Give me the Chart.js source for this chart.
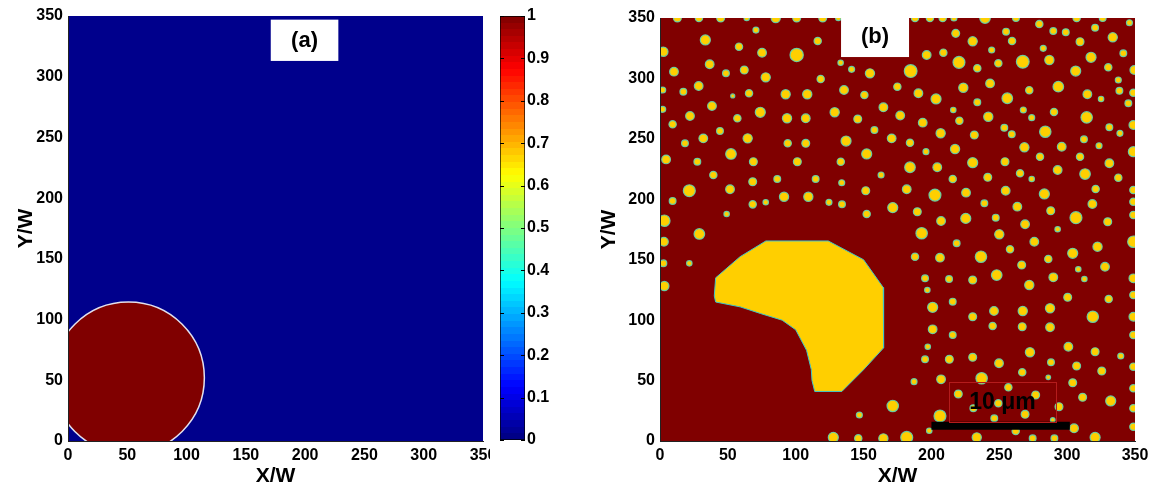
<!DOCTYPE html>
<html>
<head>
<meta charset="utf-8">
<title>Phase field</title>
<script src="https://cdn.jsdelivr.net/npm/chart.js@4.4.1/dist/chart.umd.min.js"></script>
<style>
  html, body { margin: 0; padding: 0; background: #fff; }
  #wrap { position: relative; width: 1150px; height: 491px; overflow: hidden; }
  canvas { position: absolute; top: 0; }
  #fieldA { left: 0; }
  #cbar { left: 491px; }
  #fieldB { left: 585px; }
</style>
</head>
<body>
<div id="wrap">
  <canvas id="fieldA" width="490" height="491"></canvas>
  <canvas id="cbar" width="80" height="491"></canvas>
  <canvas id="fieldB" width="565" height="491"></canvas>
</div>
<script>
Chart.defaults.font.family = '"Liberation Sans", Arial, Helvetica, sans-serif';
Chart.defaults.font.weight = 'bold';
Chart.defaults.color = '#000';

const axisTicks = [0, 50, 100, 150, 200, 250, 300, 350];
const barTicks = [0, 0.1, 0.2, 0.3, 0.4, 0.5, 0.6, 0.7, 0.8, 0.9, 1];

// (a) initial seed: centre and radius in W
const seedX = [51];
const seedY = [52];
const seedR = [64];

// (b) large grain outline
const grainX = [78, 124, 150, 164.5, 165, 164.5, 150, 134, 114, 112, 111.5, 108, 100, 90, 74, 59, 41, 40, 41, 59, 78];
const grainY = [165.5, 165.5, 150, 127, 100, 77, 59, 41, 41, 50, 59, 75, 92, 100, 105.5, 111, 115, 120, 135, 152.5, 165.5];

// (b) small grains: position and radius in W
const dotX = [
  12.8, 28.7, 44.7, 63.9, 85.3, 100.7, 119.9, 131.4, 187.9, 198.9, 208.3, 216.6, 239.5, 262.3, 307.0, 326.2,
  70.7, 33.4, 116.2, 2.5, 58.2, 75.2, 100.7, 36.6, 10.3, 62.1, 48.6, 77.9, 28.5, 17.2, 2.0, 53.6, 65.6, 92.6, 108.5,
  118.4, 133.1, 141.2, 154.7, 174.9, 135.6, 150.6, 2.0, 38.3, 22.1, 57.0, 73.9, 93.6, 107.4, 128.7, 145.7, 164.6, 177.0,
  9.3, 44.2, 31.9, 18.4, 64.6, 94.1, 107.4, 137.1, 158.0, 170.7, 52.3, 152.3,
  4.5, 27.5, 68.8, 101.2, 133.2,
  39.3, 68.3, 86.4, 114.7, 133.9, 162.9, 21.6, 51.6, 91.4, 109.3, 151.6, 9.3, 68.3, 77.9, 124.5, 134.1, 171.5, 49.1,
  152.3, 3.2, 29.0, 2.9, 21.6, 2.5, 3.2,
  171.5, 146.9, 127.7, 146.1, 164.6,
  345.9, 279.5, 217.9, 255.0, 289.8, 299.0, 320.6, 230.4, 259.4, 309.5, 333.6, 282.4, 196.5, 208.8, 244.4, 220.3, 267.3,
  286.9, 317.6, 341.4, 184.7, 249.3, 233.8, 306.3, 330.3, 349.5, 337.7, 243.2, 223.5, 293.5, 272.1, 190.4, 338.5, 314.9,
  203.4, 255.9, 325.0, 348.8, 233.8, 345.1, 216.1, 267.7, 290.3, 241.9, 220.6, 273.9, 314.4, 193.6, 253.7, 348.8, 206.8,
  231.6, 259.2, 283.9, 331.1, 312.4, 338.9, 184.2, 217.4, 268.5, 296.0, 323.5, 348.8, 196.0, 280.0, 309.5,
  184.2, 204.3, 230.4, 254.2, 331.1, 215.7, 241.5, 265.3, 273.9, 293.0, 313.2, 337.7, 181.8, 202.6, 225.5, 254.7, 283.2,
  321.0, 348.8, 239.0, 263.3, 318.6, 348.8, 189.6, 287.9, 207.1, 225.3, 247.4, 306.5, 329.9, 348.8, 269.0, 192.8, 250.0,
  293.0, 275.8, 218.6, 348.8, 322.4, 257.9, 187.9, 206.3, 236.5, 304.1, 286.1, 266.5, 308.2, 327.9, 248.1, 195.3, 213.0,
  230.4, 289.8, 312.7, 348.8, 272.1, 197.0, 300.4, 330.6, 348.8, 215.7, 200.9, 246.1, 267.3, 287.4, 230.4, 318.9, 348.8,
  200.9, 215.7, 245.1, 266.9, 287.4, 348.8, 197.3, 300.9, 195.3, 213.2, 230.4, 272.6, 320.6, 339.5, 249.8, 288.1, 307.0,
  325.5, 348.8, 266.9, 286.1, 187.2, 207.1, 237.0, 304.1, 256.7, 348.8, 219.8, 276.8, 311.4, 332.1, 230.9, 249.3, 269.0,
  294.0, 348.8, 206.3, 246.3, 289.4, 198.4, 262.1, 305.1, 348.8, 181.8, 233.4, 274.6, 290.6, 320.6
];
const dotY = [
  350, 350, 350, 350, 350, 350, 350, 350, 350, 350, 350, 350, 350, 350, 350, 350,
  340.0, 331.8, 331.0, 322.1, 326.3, 321.3, 319.4, 311.7, 305.6, 307.0, 304.2, 300.9, 293.7, 289.0, 290.4, 285.5, 287.7, 286.9, 286.9,
  299.5, 313.0, 307.5, 304.2, 293.2, 290.4, 286.3, 274.4, 277.2, 268.9, 267.0, 272.0, 267.0, 267.0, 272.0, 266.4, 276.1, 269.3,
  262.0, 256.5, 250.4, 246.3, 250.4, 246.3, 246.3, 248.2, 257.3, 250.4, 237.5, 237.5,
  233.0, 231.1, 231.1, 231.1, 231.1,
  220.1, 214.5, 216.8, 216.8, 213.7, 220.1, 207.1, 208.3, 202.1, 202.1, 207.1, 198.6, 195.8, 197.5, 197.5, 195.8, 193.1, 187.8,
  187.8, 182.3, 171.3, 164.9, 147.0, 147.0, 128.2,
  29.0, 21.5, 3.0, 2.2, 2.2,
  346.1, 345.0, 337.3, 338.7, 339.2, 338.2, 342.0, 330.7, 331.0, 330.4, 334.0, 324.9, 319.4, 321.3, 323.5, 313.3, 313.8,
  315.2, 317.5, 320.8, 306.1, 312.5, 308.4, 306.1, 309.2, 307.0, 298.7, 295.9, 292.3, 293.2, 290.2, 287.7, 289.8, 286.9,
  283.0, 283.6, 283.0, 288.2, 280.2, 279.4, 273.9, 273.9, 272.2, 268.3, 265.0, 267.5, 267.8, 263.4, 259.2, 261.5, 254.6,
  253.2, 253.8, 255.9, 259.6, 249.6, 254.6, 246.8, 241.6, 243.0, 243.5, 244.3, 239.4, 239.4, 235.2, 235.2,
  226.5, 226.5, 230.3, 231.1, 229.8, 216.8, 218.2, 221.5, 216.8, 224.2, 220.9, 217.9, 208.3, 203.5, 205.5, 207.1, 204.4,
  208.5, 207.7, 196.7, 193.9, 196.1, 198.0, 189.7, 190.5, 182.0, 184.2, 184.8, 184.8, 181.4, 187.0, 179.3, 171.9, 171.0,
  175.2, 164.9, 163.6, 164.9, 160.8, 158.6, 152.5, 151.7, 152.5, 155.3, 150.6, 145.6, 142.1, 144.2, 137.3, 134.6, 134.0,
  133.2, 135.4, 134.0, 134.6, 129.1, 124.9, 118.9, 117.5, 120.8, 115.3, 110.6, 107.6, 107.6, 109.8, 102.8, 102.8, 102.8,
  92.4, 87.7, 95.2, 94.6, 94.1, 87.7, 78.0, 78.0, 67.6, 67.6, 69.3, 73.4, 73.9, 70.3, 64.3, 65.1, 62.1,
  57.9, 61.5, 56.8, 52.7, 49.1, 51.0, 51.9, 48.2, 44.4, 43.6, 38.9, 38.1, 36.2, 33.1, 27.1, 31.2, 22.1,
  28.4, 27.1, 20.7, 18.8, 17.4, 8.5, 8.3, 10.5, 11.8, 3.0, 3.0, 2.2, 2.2, 3.0
];
const dotR = [
  2.9, 2.7, 2.9, 2.0, 3.4, 2.9, 2.9, 2.0, 2.7, 2.7, 2.7, 2.2, 3.9, 2.5, 2.7, 2.5,
  2.2, 3.7, 2.7, 3.4, 2.7, 3.2, 4.9, 3.2, 3.2, 2.9, 2.5, 3.4, 3.2, 2.5, 2.2, 1.5, 2.7, 3.4, 3.4,
  2.7, 2.0, 2.2, 3.4, 2.7, 3.2, 2.7, 2.2, 3.2, 3.2, 2.7, 3.7, 3.4, 3.2, 3.4, 2.9, 3.2, 3.2,
  2.7, 2.5, 3.2, 2.5, 3.4, 2.7, 2.9, 3.7, 2.5, 3.2, 3.9, 3.7,
  3.2, 2.5, 2.9, 2.9, 2.7,
  2.7, 2.9, 2.5, 2.5, 2.2, 2.2, 4.4, 3.2, 3.4, 3.4, 2.9, 2.5, 2.7, 2.0, 2.2, 2.5, 3.7, 2.0,
  2.7, 4.2, 3.9, 3.2, 2.0, 2.5, 3.4,
  4.2, 2.2, 3.7, 2.7, 3.4,
  2.2, 2.7, 2.9, 2.5, 2.5, 2.5, 2.5, 3.4, 2.7, 2.9, 3.4, 2.2, 3.2, 2.7, 2.2, 4.4, 4.7,
  3.4, 3.7, 2.5, 4.7, 2.7, 2.7, 3.7, 2.7, 3.2, 2.2, 3.2, 3.4, 3.9, 2.7, 3.2, 2.5, 3.2,
  3.7, 3.9, 2.0, 2.7, 2.5, 2.5, 2.0, 2.2, 2.7, 3.4, 2.7, 2.2, 4.2, 3.2, 2.5, 3.2, 3.4,
  2.9, 2.5, 4.2, 2.5, 2.5, 2.2, 2.7, 3.4, 3.4, 3.2, 2.2, 3.7, 2.2, 2.7, 2.7,
  3.9, 3.2, 3.7, 2.9, 3.2, 2.7, 2.9, 2.7, 2.0, 3.2, 3.9, 2.7, 3.2, 4.4, 3.2, 3.2, 3.7,
  2.7, 2.7, 2.5, 3.2, 3.2, 2.7, 2.9, 2.9, 3.2, 3.7, 2.5, 4.4, 2.9, 2.7, 3.2, 4.2, 3.4,
  2.0, 3.2, 2.5, 4.2, 3.4, 2.7, 2.7, 3.2, 4.2, 3.7, 2.7, 2.9, 2.0, 3.2, 3.9, 2.5, 2.5,
  2.9, 3.2, 2.0, 3.2, 3.4, 2.0, 2.9, 2.7, 2.7, 2.5, 3.7, 3.2, 3.4, 3.4, 2.9, 4.2, 3.2,
  3.2, 2.5, 2.7, 2.9, 3.2, 2.7, 2.0, 3.2, 2.5, 2.9, 2.9, 3.4, 2.9, 2.2, 3.2, 2.5, 2.9,
  2.9, 2.7, 2.7, 1.7, 2.2, 3.2, 4.2, 2.9, 2.7, 2.7, 2.9, 2.9, 2.9, 3.7, 2.5, 2.7, 2.9,
  2.9, 2.7, 4.4, 2.5, 1.7, 2.0, 2.7, 3.2, 2.7, 4.4, 3.4, 2.5, 2.5, 3.7
];

// scale bar (10 um) in W
const barX = [200, 302];
const barY = [12.7, 12.7];

const BLUE = '#00008C';
const MAROON = '#800000';
const GOLD = '#FFCF00';

function pxRadius(chart, r) {
  const s = chart.scales.x;
  return s.getPixelForValue(r) - s.getPixelForValue(0);
}

function jet(t) {
  const c = v => Math.round(255 * Math.min(1, Math.max(0, v)));
  return 'rgb(' + c(1.5 - Math.abs(4 * t - 3)) + ',' + c(1.5 - Math.abs(4 * t - 2)) + ',' + c(1.5 - Math.abs(4 * t - 1)) + ')';
}

function jetBands(ctx, area) {
  const g = ctx.createLinearGradient(0, area.bottom, 0, area.top);
  for (let i = 0; i < 64; i++) {
    const col = jet((i + 0.5) / 64);
    g.addColorStop(i / 64, col);
    g.addColorStop((i + 1) / 64, col);
  }
  return g;
}

function fieldAxes(yWidth, yTitlePad) {
  return {
    x: {
      type: 'linear', min: 0, max: 350,
      afterBuildTicks: s => { s.ticks = axisTicks.map(v => ({ value: v })); },
      afterFit: s => { s.height = 50; s.paddingLeft = 0; s.paddingRight = 0; },
      grid: { display: false, drawTicks: false },
      border: { display: true, color: '#222', width: 1, z: 1 },
      ticks: { padding: 5, font: { size: 16 }, maxRotation: 0, autoSkip: false },
      title: { display: true, text: 'X/W', font: { size: 21 }, padding: { top: 0, bottom: 2 } }
    },
    y: {
      type: 'linear', min: 0, max: 350,
      afterBuildTicks: s => { s.ticks = axisTicks.map(v => ({ value: v })); },
      afterFit: s => { s.width = yWidth; s.paddingTop = 0; s.paddingBottom = 0; },
      grid: { display: false, drawTicks: false },
      border: { display: true, color: '#222', width: 1, z: 1 },
      ticks: { padding: 5, font: { size: 16 }, autoSkip: false },
      title: { display: true, text: 'Y/W', font: { size: 21 }, padding: { top: yTitlePad, bottom: 0 } }
    }
  };
}

// background of the plot area, label boxes and framed captions
function notes(cfg) {
  return {
    id: 'notes',
    beforeDraw(chart) {
      const { ctx, chartArea: a } = chart;
      ctx.save();
      ctx.fillStyle = cfg.background;
      ctx.fillRect(a.left, a.top, a.right - a.left, a.bottom - a.top);
      ctx.restore();
    },
    afterDatasetsDraw(chart) {
      const { ctx, scales: { x, y } } = chart;
      ctx.save();
      (cfg.frames || []).forEach(f => {
        const x0 = x.getPixelForValue(f.x0), x1 = x.getPixelForValue(f.x1);
        const y0 = y.getPixelForValue(f.y0), y1 = y.getPixelForValue(f.y1);
        ctx.strokeStyle = f.color;
        ctx.lineWidth = 1;
        ctx.strokeRect(Math.round(x0) + 0.5, Math.round(y1) + 0.5, Math.round(x1 - x0), Math.round(y0 - y1));
      });
      (cfg.boxes || []).forEach(b => {
        const x0 = x.getPixelForValue(b.x0), x1 = x.getPixelForValue(b.x1);
        const y0 = y.getPixelForValue(b.y0), y1 = y.getPixelForValue(b.y1);
        ctx.fillStyle = '#fff';
        ctx.fillRect(x0, y1, x1 - x0, y0 - y1);
        ctx.fillStyle = '#000';
        ctx.font = 'bold 22px "Liberation Sans", Arial, sans-serif';
        ctx.textAlign = 'center';
        ctx.textBaseline = 'middle';
        ctx.fillText(b.text, (x0 + x1) / 2, (y0 + y1) / 2 + 1);
      });
      (cfg.texts || []).forEach(t => {
        ctx.fillStyle = '#000';
        ctx.font = 'bold ' + t.size + 'px "Liberation Sans", Arial, sans-serif';
        ctx.textAlign = 'center';
        ctx.textBaseline = 'middle';
        ctx.fillText(t.text, x.getPixelForValue(t.x), y.getPixelForValue(t.y));
      });
      ctx.restore();
    }
  };
}

// filled shapes built from the laid-out points of a dataset:
// closed outlines (grain) and discs whose radius is given in W (radii)
const shapeFill = {
  id: 'shapeFill',
  beforeDatasetDraw(chart, args) {
    const ds = chart.data.datasets[args.index];
    if (!ds.grain && !ds.radii) return;
    const { ctx, chartArea: a } = chart;
    const pts = args.meta.data;
    ctx.save();
    ctx.beginPath();
    ctx.rect(a.left, a.top, a.right - a.left, a.bottom - a.top);
    ctx.clip();
    if (ds.grain) {
      ctx.beginPath();
      pts.forEach((p, i) => (i ? ctx.lineTo(p.x, p.y) : ctx.moveTo(p.x, p.y)));
      ctx.closePath();
      ctx.fillStyle = ds.backgroundColor;
      ctx.fill();
    } else {
      ctx.fillStyle = ds.discColor;
      ctx.strokeStyle = ds.edgeColor;
      ctx.lineWidth = ds.edgeWidth;
      pts.forEach((p, i) => {
        ctx.beginPath();
        ctx.arc(p.x, p.y, pxRadius(chart, ds.radii[i]), 0, Math.PI * 2);
        ctx.fill();
        ctx.stroke();
      });
    }
    ctx.restore();
  }
};

// (a) initial state
new Chart(document.getElementById('fieldA'), {
  type: 'scatter',
  data: {
    datasets: [{
      data: seedX.map((x, i) => ({ x, y: seedY[i] })),
      radii: seedR,
      discColor: MAROON,
      edgeColor: 'rgba(236,236,246,0.95)',
      edgeWidth: 1.5,
      pointRadius: 0,
      clip: 0
    }]
  },
  options: {
    responsive: false,
    animation: false,
    events: [],
    layout: { padding: { top: 16, right: 7, left: 0, bottom: 0 } },
    scales: fieldAxes(68, 14),
    plugins: { legend: { display: false }, tooltip: { enabled: false } }
  },
  plugins: [shapeFill, notes({
    background: BLUE,
    boxes: [{ x0: 171, x1: 228, y0: 313, y1: 347, text: '(a)' }]
  })]
});

// colour scale 0..1
new Chart(document.getElementById('cbar'), {
  type: 'bar',
  data: {
    labels: [''],
    datasets: [{
      data: [[0, 1]],
      backgroundColor: ctx => (ctx.chart.chartArea ? jetBands(ctx.chart.ctx, ctx.chart.chartArea) : null),
      borderColor: '#000',
      borderWidth: 1,
      borderSkipped: false,
      barPercentage: 1,
      categoryPercentage: 1
    }]
  },
  options: {
    responsive: false,
    animation: false,
    events: [],
    layout: { padding: { top: 16, right: 0, left: 9, bottom: 51 } },
    scales: {
      x: { display: false },
      y: {
        position: 'right', min: 0, max: 1,
        afterBuildTicks: s => { s.ticks = barTicks.map(v => ({ value: v })); },
        afterFit: s => { s.width = 46; s.paddingTop = 0; s.paddingBottom = 0; },
        grid: { display: false, drawTicks: false },
        border: { display: false },
        ticks: { padding: 2, font: { size: 16 }, autoSkip: false, callback: v => String(v) }
      }
    },
    plugins: { legend: { display: false }, tooltip: { enabled: false } }
  },
  plugins: [{
    id: 'innerTicks',
    afterDatasetsDraw(chart) {
      const { ctx, chartArea: a, scales: { y } } = chart;
      ctx.save();
      ctx.strokeStyle = '#000';
      ctx.lineWidth = 1;
      barTicks.forEach(v => {
        const py = Math.round(y.getPixelForValue(v)) + 0.5;
        ctx.beginPath();
        ctx.moveTo(a.left, py); ctx.lineTo(a.left + 4, py);
        ctx.moveTo(a.right - 4, py); ctx.lineTo(a.right, py);
        ctx.stroke();
      });
      ctx.restore();
    }
  }]
});

// (b) grown state
new Chart(document.getElementById('fieldB'), {
  type: 'scatter',
  data: {
    datasets: [
      {
        type: 'line',
        data: barX.map((x, i) => ({ x, y: barY[i] })),
        borderColor: '#000',
        borderWidth: 8,
        borderCapStyle: 'butt',
        pointRadius: 0,
        clip: 0,
        order: 0
      },
      {
        data: dotX.map((x, i) => ({ x, y: dotY[i] })),
        radii: dotR,
        discColor: GOLD,
        edgeColor: 'rgba(96,214,176,0.9)',
        edgeWidth: 1.2,
        pointRadius: 0,
        clip: 0,
        order: 1
      },
      {
        type: 'line',
        grain: true,
        data: grainX.map((x, i) => ({ x, y: grainY[i] })),
        backgroundColor: GOLD,
        borderColor: '#3fc6c8',
        borderWidth: 1,
        pointRadius: 0,
        tension: 0,
        fill: false,
        clip: 0,
        order: 2
      }
    ]
  },
  options: {
    responsive: false,
    animation: false,
    events: [],
    layout: { padding: { top: 18, right: 15, left: 0, bottom: 0 } },
    scales: fieldAxes(75, 12),
    plugins: { legend: { display: false }, tooltip: { enabled: false } }
  },
  plugins: [shapeFill, notes({
    background: MAROON,
    frames: [{ x0: 213, x1: 291.6, y0: 15.9, y1: 49, color: '#b41c1c' }],
    texts: [{ x: 252.4, y: 31.7, text: '10 μm', size: 23 }],
    boxes: [{ x0: 133.4, x1: 183.5, y0: 317.7, y1: 353, text: '(b)' }]
  })]
});
</script>
</body>
</html>
